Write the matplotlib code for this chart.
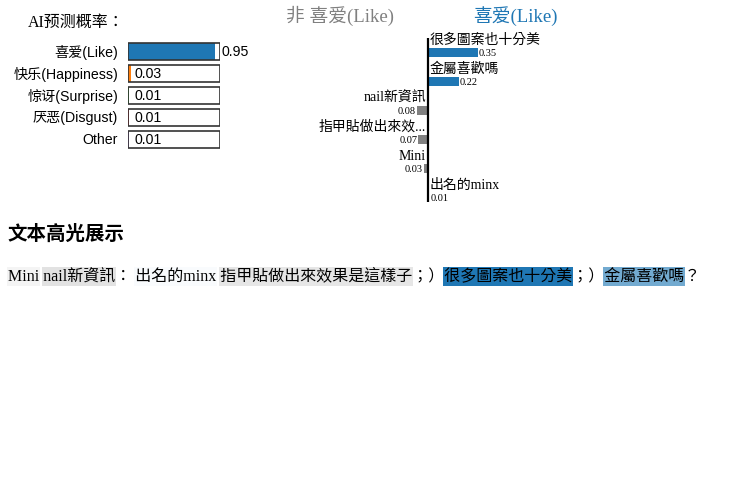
import matplotlib
matplotlib.use('Agg')
import matplotlib.pyplot as plt
from matplotlib.patches import Rectangle
import numpy as np

# class probabilities
classes = ['喜爱(Like)', '快乐(Happiness)', '惊讶(Surprise)', '厌恶(Disgust)', 'Other']
probs = [0.95, 0.03, 0.01, 0.01, 0.01]
class_colors = ['#1f77b4', '#ff7f0e', '#2ca02c', '#d62728', '#9467bd']

# text pieces and their weight for 喜爱(Like); None = not a feature
tokens = ['Mini', ' ', 'nail新資訊', '： ', '出名的minx', ' ', '指甲貼做出來效果是這樣子',
          '；）', '很多圖案也十分美', '；）', '金屬喜歡嗎', '？']
token_weights = [-0.03, None, -0.08, None, 0.01, None, -0.07,
                 None, 0.35, None, 0.22, None]

# features shown in the bar panel, in the order of the picture
feat_order = [8, 10, 2, 6, 0, 4]

SERIF = ['Liberation Serif', 'Noto Sans CJK TC']
SANS = ['Liberation Sans', 'Noto Sans CJK SC']
POS = '#1f77b4'
NEG = '#808080'

W, H = 750, 500
fig = plt.figure(figsize=(7.5, 5), dpi=100)


def px_axes(x0, y0, x1, y1):
    return fig.add_axes([x0 / W, 1 - y1 / H, (x1 - x0) / W, (y1 - y0) / H])


def short(s):
    return s if len(s) <= 8 else s[:7] + '...'


def blend(color, a):
    c = np.array(matplotlib.colors.to_rgb(color))
    return tuple(1 - a * (1 - c))


# ---- prediction probabilities ----
fig.text(28 / W, 1 - 23 / H, 'AI预测概率：', fontsize=11.5, family=SERIF,
         va='center', ha='left')
ax1 = px_axes(128, 40.5, 220, 150.5)
ax1.set_xlim(0, 1)
ax1.set_ylim(len(classes), 0)
ax1.axis('off')
rows = np.arange(len(classes)) + 0.5
ax1.barh(rows, probs, height=0.77, color=class_colors)
ax1.barh(rows, [1] * len(classes), height=0.77, fill=False,
         edgecolor='#333333', lw=1.2)
for r, name, p in zip(rows, classes, probs):
    ax1.text(-0.11, r + 0.03, name, ha='right', va='center', fontsize=10.2, family=SANS)
    if p > 0.5:
        ax1.text(1.02, r + 0.03, f'{p:.2f}', ha='left', va='center', fontsize=10.2, family=SANS)
    else:
        ax1.text(0.07, r + 0.03, f'{p:.2f}', ha='left', va='center', fontsize=10.2, family=SANS)

# ---- feature weights ----
fig.text(340 / W, 1 - 16 / H, '非 喜爱(Like)', color=NEG, fontsize=13.5,
         family=SERIF, ha='center', va='center')
fig.text(515 / W, 1 - 16 / H, '喜爱(Like)', color=POS, fontsize=13.5,
         family=SERIF, ha='center', va='center')

feat_names = [short(tokens[i]) for i in feat_order]
feat_w = [token_weights[i] for i in feat_order]
ax2 = px_axes(300, 38, 580, 202)
ax2.set_xlim(-128 / 142, 152 / 142)
ax2.set_ylim(5.172, -0.483)
ax2.axis('off')
ys = np.arange(len(feat_w))
ax2.barh(ys, feat_w, height=0.31, color=[POS if w > 0 else NEG for w in feat_w])
ax2.axvline(0, color='black', lw=1.6)
for y, name, w in zip(ys, feat_names, feat_w):
    if w > 0:
        ax2.text(0.014, y - 0.40, name, ha='left', va='center', fontsize=10, family=SERIF)
        ax2.text(w + 0.005, y + 0.06, f'{w:.2f}', ha='left', va='center',
                 fontsize=7.5, family=SERIF)
    else:
        ax2.text(-0.014, y - 0.40, name, ha='right', va='center', fontsize=10, family=SERIF)
        ax2.text(w - 0.005, y + 0.06, f'{abs(w):.2f}', ha='right', va='center',
                 fontsize=7.5, family=SERIF)

# ---- highlighted text ----
fig.text(8 / W, 1 - 234 / H, '文本高光展示', fontsize=14, weight='bold',
         family=SANS, ha='left', va='center')

renderer = fig.canvas.get_renderer()
x0, yc = 8, 276
fig.text(x0 / W, 1 - yc / H, ''.join(tokens), fontsize=11.5, family=SERIF,
         ha='left', va='center', zorder=3)


def text_width(s):
    t = fig.text(0, 0, s, fontsize=11.5, family=SERIF)
    wd = t.get_window_extent(renderer).width
    t.remove()
    return wd


wmax = max(abs(w) for w in token_weights if w is not None)
for i, (tok, w) in enumerate(zip(tokens, token_weights)):
    if w is None:
        continue
    end = x0 + text_width(''.join(tokens[:i + 1]))
    start = end - text_width(tok)
    col = blend(POS if w > 0 else NEG, abs(w) / wmax)
    fig.add_artist(Rectangle(((start - 1) / W, 1 - 286 / H), (end - start + 2) / W, 19 / H,
                             transform=fig.transFigure, fc=col, ec='none', zorder=2))

fig.savefig('out.png', dpi=100)
